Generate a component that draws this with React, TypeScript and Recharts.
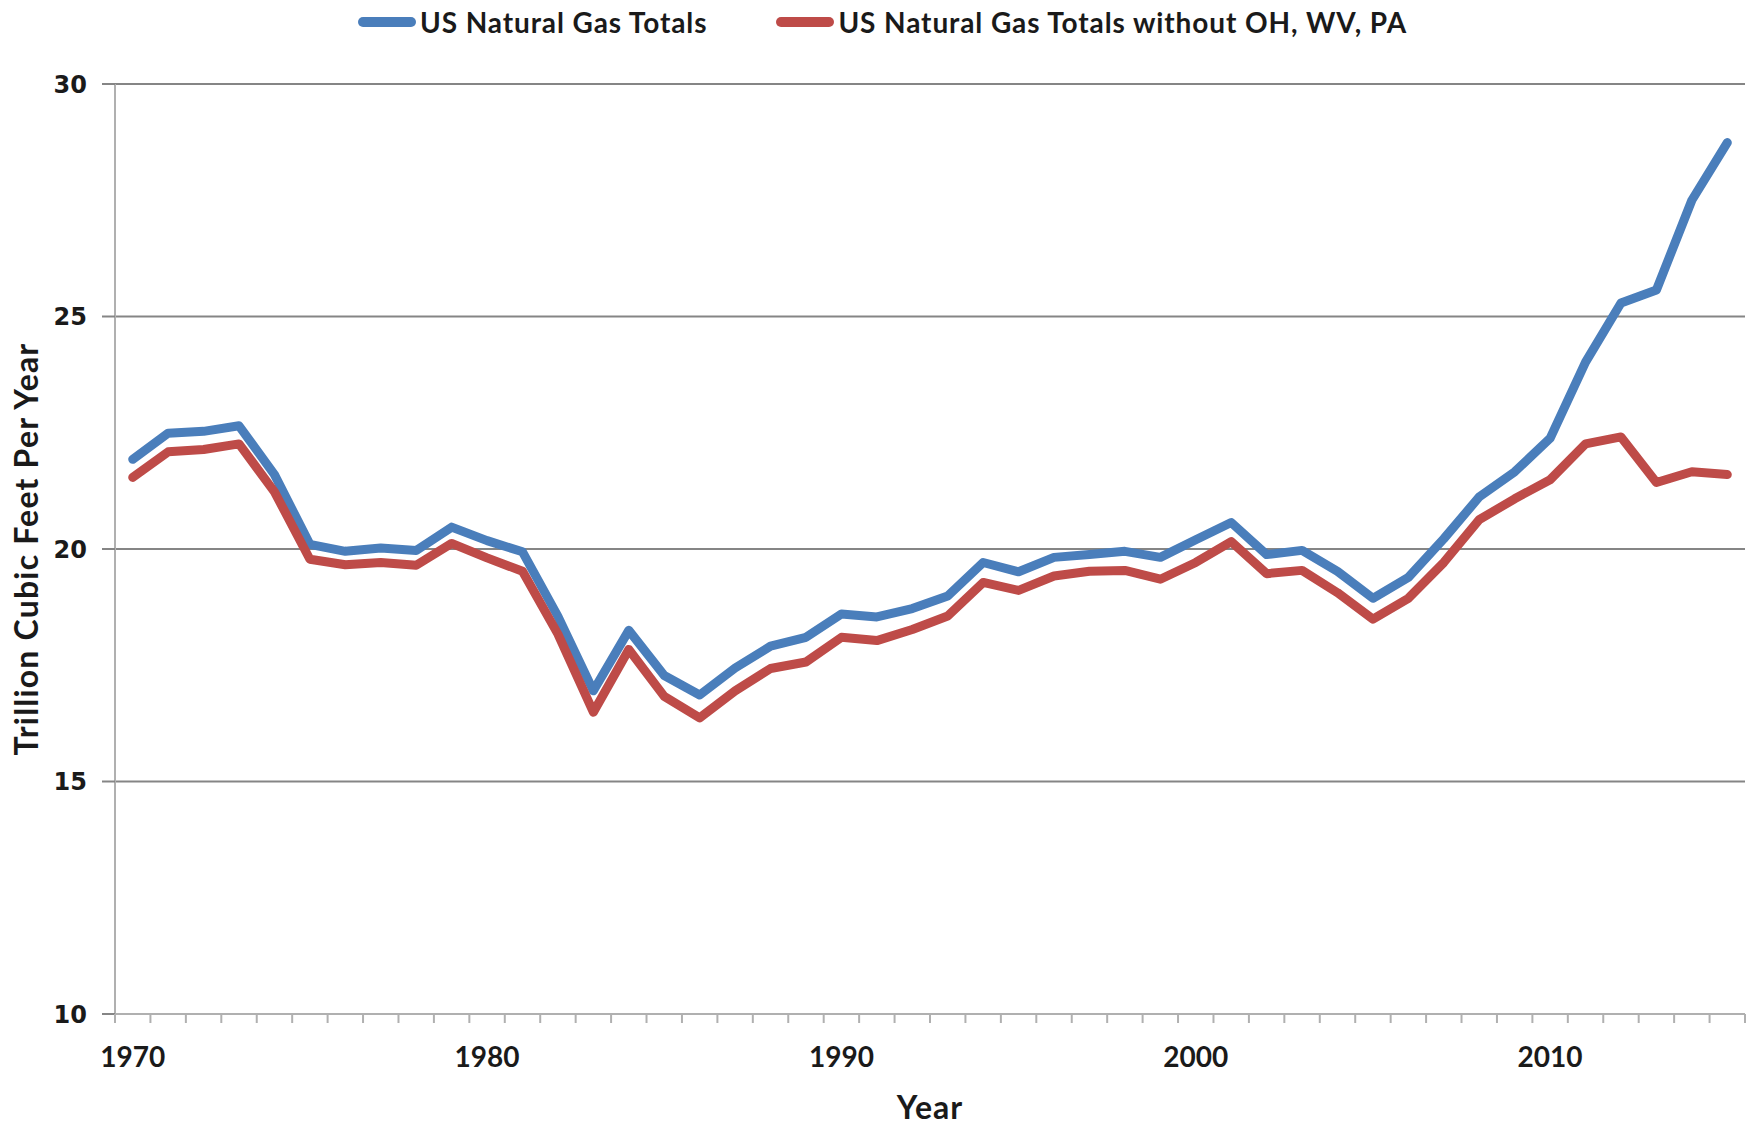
import React from 'react';
import { LineChart, Line, XAxis, YAxis, CartesianGrid, Legend } from 'recharts';

const years = [
  1970, 1971, 1972, 1973, 1974, 1975, 1976, 1977, 1978, 1979,
  1980, 1981, 1982, 1983, 1984, 1985, 1986, 1987, 1988, 1989,
  1990, 1991, 1992, 1993, 1994, 1995, 1996, 1997, 1998, 1999,
  2000, 2001, 2002, 2003, 2004, 2005, 2006, 2007, 2008, 2009,
  2010, 2011, 2012, 2013, 2014, 2015,
];

const usTotals = [
  21.93, 22.49, 22.53, 22.65, 21.6, 20.1, 19.95, 20.02, 19.97, 20.47,
  20.18, 19.94, 18.55, 16.95, 18.25, 17.28, 16.86, 17.44, 17.91, 18.1,
  18.6, 18.54, 18.72, 18.99, 19.71, 19.51, 19.82, 19.88, 19.95, 19.82,
  20.2, 20.57, 19.88, 19.97, 19.52, 18.94, 19.39, 20.22, 21.12, 21.66,
  22.38, 24.02, 25.29, 25.57, 27.5, 28.74,
];

const usWithoutOhWvPa = [
  21.54, 22.09, 22.14, 22.26, 21.23, 19.78, 19.66, 19.71, 19.65, 20.12,
  19.81, 19.52, 18.17, 16.49, 17.84, 16.83, 16.37, 16.95, 17.43, 17.57,
  18.1, 18.03, 18.27, 18.56, 19.28, 19.11, 19.42, 19.52, 19.54, 19.35,
  19.71, 20.16, 19.47, 19.54, 19.06, 18.49, 18.94, 19.71, 20.63, 21.08,
  21.49, 22.26, 22.41, 21.43, 21.66, 21.6,
];

const yTicks = [10, 15, 20, 25, 30];
const xLabelYears = [1970, 1980, 1990, 2000, 2010];

const seriesNames = ['US Natural Gas Totals', 'US Natural Gas Totals without OH, WV, PA'];
const seriesColors = ['#4a7ebb', '#be4b48'];

const data = years.map((year, i) => ({
  year,
  total: usTotals[i],
  without: usWithoutOhWvPa[i],
}));

const boundaryTicks = [...years.map((y) => y - 0.5), years[years.length - 1] + 0.5];
const xTicks = [...boundaryTicks, ...xLabelYears];

const GRID = '#858585';
const AXIS = '#b0b0b0';
const TEXT = '#1a1a1a';
const CAL = 'Lato, "Open Sans", sans-serif';

const XTick = (props: any) => {
  const { x, y, payload } = props;
  const v = payload.value as number;
  if (Number.isInteger(v)) {
    return (
      <text
        x={x}
        y={y + 42}
        textAnchor="middle"
        dominantBaseline="central"
        fontFamily={CAL}
        fontWeight={700}
        fontSize={28}
        fill={TEXT}
      >
        {v}
      </text>
    );
  }
  return <line x1={x} x2={x} y1={y} y2={y + 9} stroke={AXIS} strokeWidth={2} />;
};

const LegendContent = () => (
  <div
    style={{
      height: 84,
      display: 'flex',
      alignItems: 'flex-start',
      paddingLeft: 358,
      boxSizing: 'border-box',
      fontFamily: CAL,
      fontWeight: 700,
      fontSize: 28,
      letterSpacing: 0.9,
      color: TEXT,
    }}
  >
    {seriesNames.map((name, i) => (
      <div
        key={name}
        style={{
          display: 'flex',
          alignItems: 'center',
          height: 28,
          marginTop: 8,
          marginRight: i === 0 ? 69 : 0,
          whiteSpace: 'nowrap',
        }}
      >
        <div
          style={{
            width: 58,
            height: 10,
            borderRadius: 5,
            background: seriesColors[i],
            marginRight: 4,
          }}
        />
        <span style={{ lineHeight: '28px' }}>{name}</span>
      </div>
    ))}
  </div>
);

export default function App() {
  return (
    <div style={{ position: 'absolute', left: 0, top: 0, background: '#fff' }}>
      <LineChart
        width={1753}
        height={1128}
        data={data}
        margin={{ top: 0, right: 8, bottom: 0, left: 0 }}
      >
        <Legend
          verticalAlign="top"
          align="left"
          content={<LegendContent />}
          wrapperStyle={{ left: 0, top: 0, width: 1753, height: 84 }}
        />
        <CartesianGrid
          vertical={false}
          stroke={GRID}
          strokeWidth={2}
          horizontalValues={yTicks}
        />
        <XAxis
          dataKey="year"
          type="number"
          domain={[1969.5, 2015.5]}
          ticks={xTicks}
          interval={0}
          height={114}
          tickLine={false}
          tickSize={0}
          tickMargin={0}
          axisLine={{ stroke: AXIS, strokeWidth: 2 }}
          tick={<XTick />}
          label={{
            content: (p: any) => {
              const vb = p.viewBox || { x: 115, width: 1630, y: 1014 };
              return (
                <text
                  x={vb.x + vb.width / 2}
                  y={1106}
                  textAnchor="middle"
                  dominantBaseline="central"
                  fontFamily={CAL}
                  fontWeight={700}
                  fontSize={32}
                  letterSpacing={1}
                  fill={TEXT}
                >
                  Year
                </text>
              );
            },
          }}
        />
        <YAxis
          type="number"
          domain={[10, 30]}
          ticks={yTicks}
          width={115}
          tickSize={13}
          tickMargin={15}
          tickLine={{ stroke: GRID, strokeWidth: 2 }}
          axisLine={{ stroke: AXIS, strokeWidth: 2 }}
          tick={{ fontFamily: '"DejaVu Sans", sans-serif', fontWeight: 700, fontSize: 24, fill: TEXT }}
          label={{
            content: (p: any) => {
              const vb = p.viewBox || { y: 84, height: 930 };
              const cy = vb.y + vb.height / 2;
              return (
                <text
                  x={25}
                  y={cy}
                  transform={`rotate(-90 25 ${cy})`}
                  textAnchor="middle"
                  dominantBaseline="central"
                  fontFamily={CAL}
                  fontWeight={700}
                  fontSize={32}
                  letterSpacing={1.2}
                  fill={TEXT}
                >
                  Trillion Cubic Feet Per Year
                </text>
              );
            },
          }}
        />
        <Line
          type="linear"
          dataKey="total"
          name={seriesNames[0]}
          stroke={seriesColors[0]}
          strokeWidth={9}
          strokeLinejoin="round"
          strokeLinecap="round"
          dot={false}
          activeDot={false}
          isAnimationActive={false}
        />
        <Line
          type="linear"
          dataKey="without"
          name={seriesNames[1]}
          stroke={seriesColors[1]}
          strokeWidth={9}
          strokeLinejoin="round"
          strokeLinecap="round"
          dot={false}
          activeDot={false}
          isAnimationActive={false}
        />
      </LineChart>
    </div>
  );
}
